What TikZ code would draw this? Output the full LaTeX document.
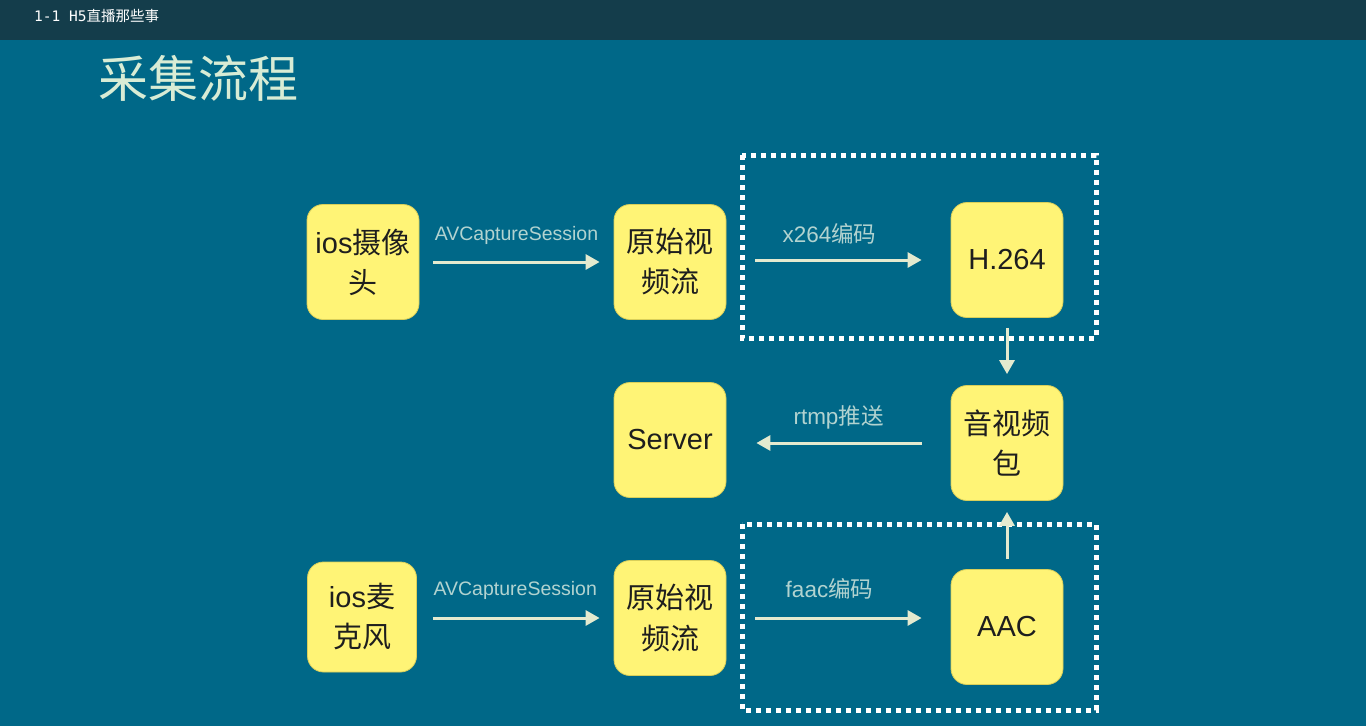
\documentclass[tikz,border=0pt]{standalone}
\usepackage{fontspec}
\setmainfont{Liberation Sans}
\newfontfamily\cjk{Noto Sans CJK SC}
\newfontfamily\monof{DejaVu Sans Mono}
\usetikzlibrary{arrows.meta}
\definecolor{bgc}{HTML}{006888}
\definecolor{barc}{HTML}{143D4B}
\definecolor{boxc}{HTML}{FFF476}
\definecolor{boxd}{HTML}{D9CF5A}
\definecolor{arrc}{HTML}{E4EACF}
\definecolor{labc}{HTML}{B2D3D0}
\definecolor{titc}{HTML}{D8ECD5}
\definecolor{txtc}{HTML}{1E1E1E}
\tikzset{
  box/.style={draw=boxd, line width=0.8pt, fill=boxc, rounded corners=16pt,
    minimum width=112pt, minimum height=115pt, inner sep=0pt, align=center,
    text=txtc, font=\fontsize{29}{40}\selectfont},
  arr/.style={draw=arrc, line width=3pt, -{Triangle[length=14pt,width=15pt]}},
  lab/.style={text=labc, font=\fontsize{19.5}{22}\selectfont, inner sep=0pt},
  labb/.style={lab, font=\fontsize{22.5}{24}\selectfont},
  dotbox/.style={draw=white, line width=5pt, dash pattern=on 5pt off 5pt}
}
\begin{document}
\begin{tikzpicture}[x=1pt,y=-1pt]
\fill[bgc] (0,0) rectangle (1366,726);
\useasboundingbox (0,0) rectangle (1366,726);
\fill[barc] (0,0) rectangle (1366,40);
\node[anchor=west, text=white, inner sep=0pt, font=\fontsize{14.5}{16}\selectfont] (hdr) at (34,16) {{\monof 1-1 H5}{\cjk 直播那些事}};
\node[anchor=west, text=titc, inner sep=0pt, font=\cjk\fontsize{50}{52}\selectfont] (title) at (98,78) {采集流程};

\draw[dotbox] (742,155) rectangle (1096,338);
\draw[dotbox] (742,524) rectangle (1096,710);

\node[box] (cam) at (363,262) {ios{\cjk 摄像}\\{\cjk 头}};
\node[box] (raw1) at (670,262) {{\cjk 原始视}\\{\cjk 频流}};
\node[box] (h264) at (1007,260) {H.264};
\node[box] (pkt) at (1007,443) {{\cjk 音视频}\\{\cjk 包}};
\node[box] (server) at (670,440) {Server};
\node[box, minimum width=109pt, minimum height=110pt] (mic) at (362,617) {ios{\cjk 麦}\\{\cjk 克风}};
\node[box] (raw2) at (670,618) {{\cjk 原始视}\\{\cjk 频流}};
\node[box] (aac) at (1007,627) {AAC};

\draw[arr, shorten <=14pt, shorten >=14pt] (cam.east) -- (raw1.west)
  node[lab, midway, above=16pt] (l1) {AVCaptureSession};
\draw[arr, shorten <=29pt, shorten >=29pt] (raw1.east |- h264.west) -- (h264.west)
  node[labb, midway, above=14pt, xshift=-9pt] (l2) {x264{\cjk 编码}};
\draw[arr, shorten <=10pt, shorten >=11pt] (h264.south) -- (pkt.north);
\draw[arr, shorten <=29pt, shorten >=30pt] (pkt.west) -- (pkt.west -| server.east)
  node[labb, midway, above=12pt] (l3) {rtmp{\cjk 推送}};
\draw[arr, shorten <=10pt, shorten >=11pt] (aac.north) -- (pkt.south);
\draw[arr, shorten <=16pt, shorten >=14pt] (mic.east |- raw2.west) -- (raw2.west)
  node[lab, midway, above=17pt] (l4) {AVCaptureSession};
\draw[arr, shorten <=29pt, shorten >=29pt] (raw2.east) -- (raw2.east -| aac.west)
  node[labb, midway, above=17pt, xshift=-9pt] (l5) {faac{\cjk 编码}};
\end{tikzpicture}
\end{document}
